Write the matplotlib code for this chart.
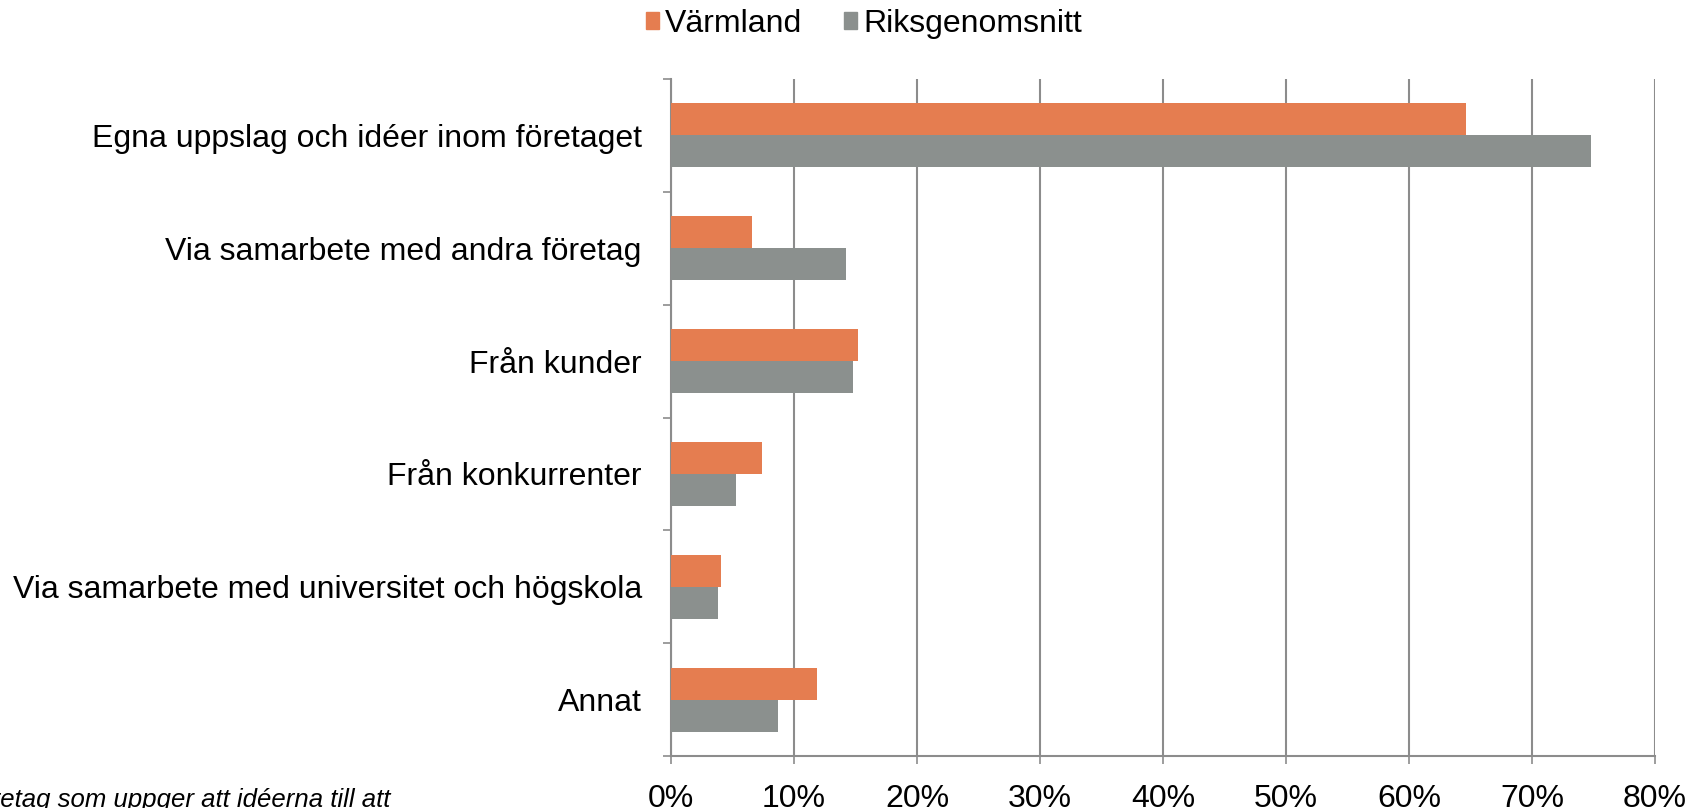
import matplotlib
matplotlib.use("Agg")
import matplotlib.pyplot as plt
import numpy as np
from matplotlib.patches import Patch

plt.rcParams['font.family'] = ['Liberation Sans', 'DejaVu Sans']

categories = [
    "Egna uppslag och idéer inom företaget",
    "Via samarbete med andra företag",
    "Från kunder",
    "Från konkurrenter",
    "Via samarbete med universitet och högskola",
    "Annat",
]
varmland = [64.6, 6.6, 15.2, 7.4, 4.1, 11.9]
riket = [74.8, 14.2, 14.8, 5.3, 3.8, 8.7]
series_names = ["Värmland", "Riksgenomsnitt"]
xticks = [0, 10, 20, 30, 40, 50, 60, 70, 80]

ORANGE = "#e57d50"
GRAY = "#8b908e"
GRID = "#8c8c8c"
FS = 23

fig = plt.figure(figsize=(17.03, 8.08), dpi=100)
ax = fig.add_axes([671 / 1703, 1 - 756 / 808, (1655 - 671) / 1703, (756 - 79) / 808])

y = np.arange(len(categories))
h = 0.284
ax.barh(y - h / 2, varmland, height=h, color=ORANGE, zorder=3)
ax.barh(y + h / 2, riket, height=h, color=GRAY, zorder=3)

ax.set_xlim(0, 80)
ax.set_ylim(len(categories) - 0.5, -0.5)

ax.set_xticks(xticks)
ax.set_xticklabels([f"{t}%" for t in xticks], fontsize=FS)
ax.xaxis.grid(True, color=GRID, linewidth=1.5, zorder=0)
ax.tick_params(axis='x', direction='out', length=6, width=1.2, color=GRID, pad=14)

ax.set_yticks(y)
ax.set_yticklabels(categories, fontsize=FS)
ax.set_yticks(np.arange(-0.5, len(categories) + 0.5, 1), minor=True)
ax.tick_params(axis='y', which='major', length=0, pad=21)
ax.tick_params(axis='y', which='minor', direction='out', length=6, width=1.2, color=GRID)

for side in ['top', 'right']:
    ax.spines[side].set_visible(False)
for side in ['left', 'bottom']:
    ax.spines[side].set_color(GRID)
    ax.spines[side].set_linewidth(1.5)

handles = [Patch(color=ORANGE), Patch(color=GRAY)]
fig.legend(handles, series_names, loc='center', bbox_to_anchor=(864 / 1703, 1 - 24 / 808),
           ncol=2, frameon=False, fontsize=FS, handlelength=0.42, handleheight=0.42,
           handletextpad=0.18, columnspacing=1.3, borderpad=0)

# footnote cut off at the left edge
fig.text(391 / 1703, 1 / 808, "Andel företag som uppger att idéerna till att",
         ha='right', va='baseline', fontsize=18.5, style='italic')

fig.savefig("out.png", dpi=100)
